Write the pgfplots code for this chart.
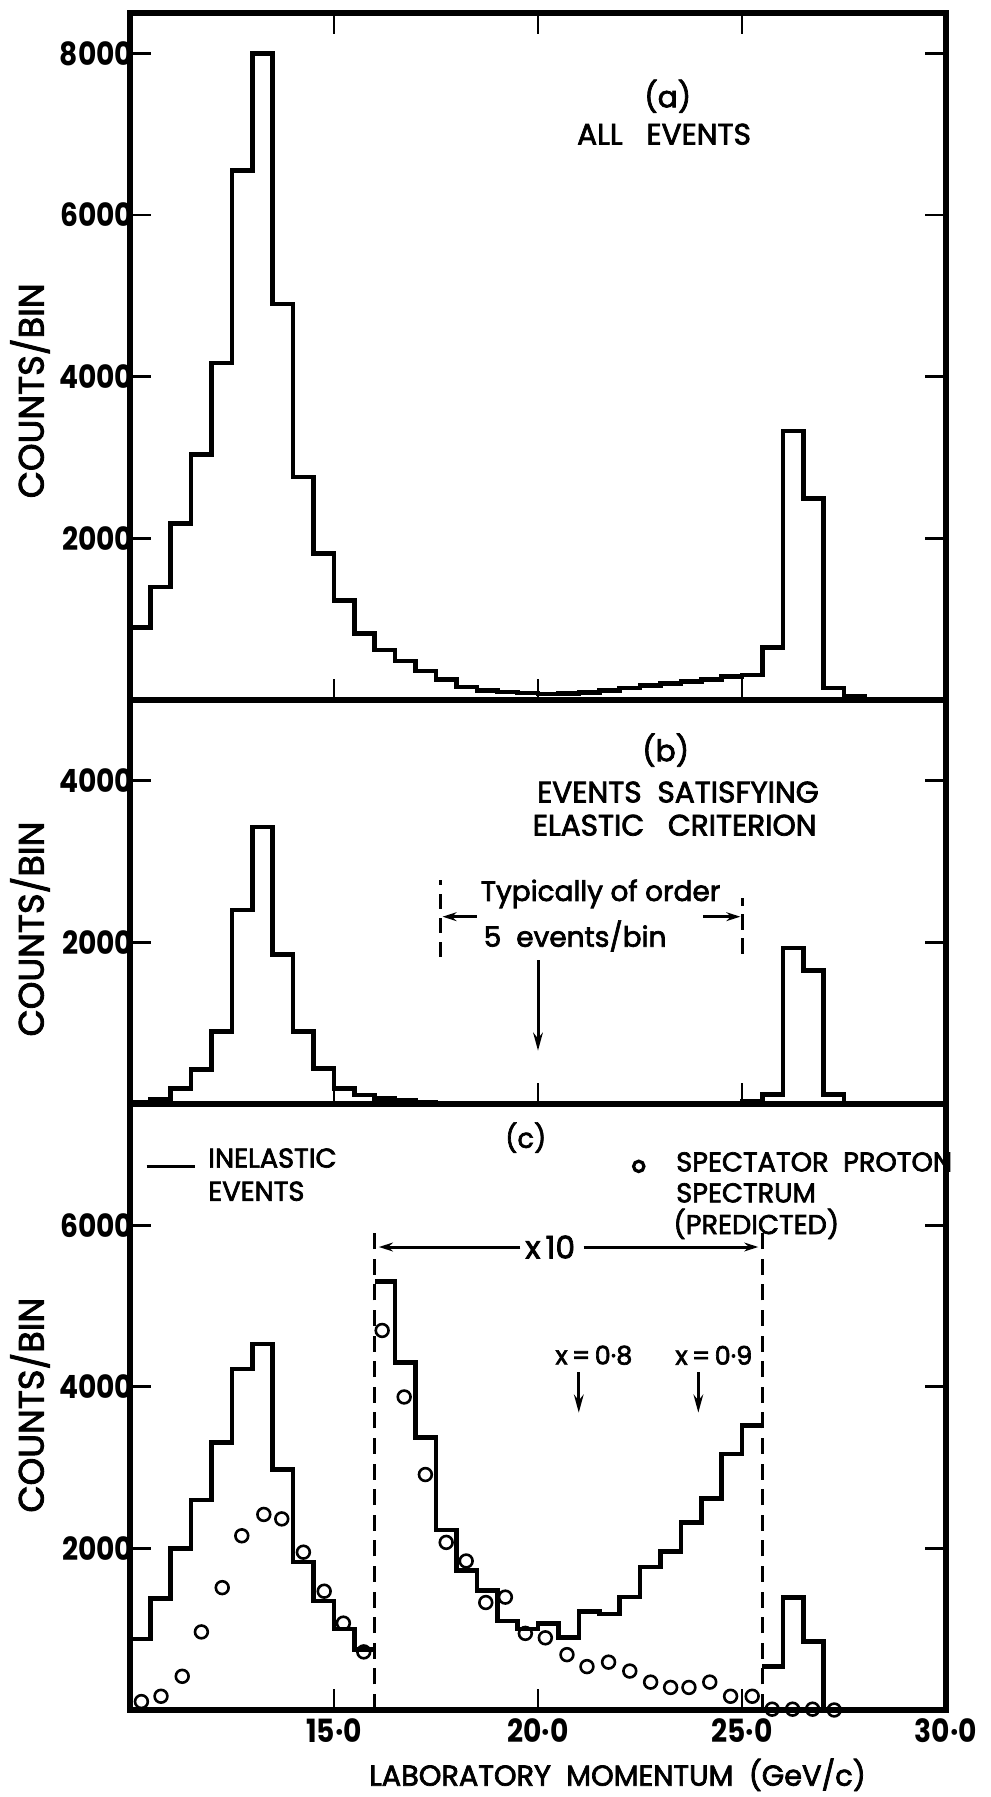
\documentclass[border=0pt]{standalone}
\usepackage{fontspec}
\setmainfont{Poppins}[FakeBold=2.5]
\newfontfamily\tickfam{Poppins}[FakeStretch=0.88]
\usepackage{pgfplots}
\pgfplotsset{compat=1.18}
\usetikzlibrary{arrows.meta}

\newcommand{\tickfont}{\tickfam\bfseries\fontsize{8.0}{9}\selectfont}
\newcommand{\annfont}{\fontsize{7.4}{8}\selectfont}
\newcommand{\legfont}{\fontsize{6.8}{8}\selectfont}
\newcommand{\labfont}{\fontsize{8.8}{9}\selectfont}
\newcommand{\xlabfont}{\fontsize{7.2}{8}\selectfont}

\tikzset{ann/.style={black, line width=0.75pt}}
\pgfplotsset{
  panel/.style={
    scale only axis,
    width=204pt,
    xmin=10, xmax=30, ymin=0,
    axis line style={line width=1.5pt},
    tick align=inside,
    major tick length=5.3pt,
    every tick/.style={black, line width=0.7pt},
    ytick pos=both,
    tick label style={font=\tickfont},
    yticklabel style={inner xsep=1.5pt, xshift=2.5pt},
    xticklabel style={inner ysep=2pt},
    clip=false,
    xtick={15,20,25},
  },
  hist/.style={const plot, black, line width=1.15pt, mark=none},
}

\begin{document}
\begin{tikzpicture}
%---------------- panel (a)
\begin{axis}[panel, name=a, height=171.75pt, ymax=8500,
  xtick pos=both, xticklabels={,,},
  ytick={2000,4000,6000,8000}, yticklabels={2000,4000,6000,8000}]
\addplot[hist] coordinates {
(10.0,900) (10.5,1400) (11.0,2180) (11.5,3040) (12.0,4170) (12.5,6550)
(13.0,8000) (13.5,4900) (14.0,2760) (14.5,1810) (15.0,1230) (15.5,820)
(16.0,620) (16.5,480) (17.0,360) (17.5,250) (18.0,160) (18.5,120)
(19.0,100) (19.5,85) (20.0,75) (20.5,80) (21.0,95) (21.5,120)
(22.0,150) (22.5,180) (23.0,205) (23.5,230) (24.0,255) (24.5,290)
(25.0,310) (25.5,650) (26.0,3330) (26.5,2490) (27.0,150) (27.5,40)
(28.0,0) (30.0,0)};
\node[font=\annfont] at (axis cs:23.18,7470) {(a)};
\node[font=\annfont] at (axis cs:23.09,7000) {ALL\ \ \ EVENTS};
\node[rotate=90, font=\labfont] at ([xshift=-25pt]rel axis cs:0,0.45) {COUNTS/BIN};
\end{axis}
%---------------- panel (b)
\begin{axis}[panel, name=b, at={(a.south west)}, anchor=north west,
  height=101pt, ymax=5000,
  xtick pos=bottom, xticklabels={,,},
  ytick={2000,4000}, yticklabels={2000,4000}]
\addplot[hist] coordinates {
(10.0,20) (10.5,60) (11.0,190) (11.5,430) (12.0,900) (12.5,2400)
(13.0,3430) (13.5,1850) (14.0,900) (14.5,440) (15.0,190) (15.5,110)
(16.0,65) (16.5,40) (17.0,25) (17.5,12) (18.0,6) (25.0,30)
(25.5,120) (26.0,1930) (26.5,1650) (27.0,120) (27.5,0) (30.0,0)};
\node[font=\annfont] at (axis cs:23.13,4380) {(b)};
\node[font=\annfont] at (axis cs:23.43,3860) {EVENTS\ \ SATISFYING};
\node[font=\annfont] at (axis cs:23.35,3450) {ELASTIC\ \ \ CRITERION};
\node[font=\fontsize{7.0}{8}\selectfont, anchor=west, inner xsep=0pt] at (axis cs:18.58,2600) {Typically of order};
\node[font=\fontsize{7.0}{8}\selectfont, anchor=west, inner xsep=0pt] at (axis cs:18.65,2080) {5\ \ events/bin};
\draw[ann, dash pattern=on 3.8pt off 2.2pt] (axis cs:17.6,1820) -- (axis cs:17.6,2770);
\draw[ann, dash pattern=on 3.8pt off 2.2pt] (axis cs:25.0,1860) -- (axis cs:25.0,2545);
\draw[ann, -{Stealth[length=3.5pt,width=2.2pt]}] (axis cs:18.5,2318) -- (axis cs:17.66,2318);
\draw[ann, -{Stealth[length=3.5pt,width=2.2pt]}] (axis cs:24.05,2318) -- (axis cs:24.96,2318);
\draw[ann, -{Stealth[length=4.5pt,width=2.4pt]}] (axis cs:20,1780) -- (axis cs:20,660);
\node[rotate=90, font=\labfont] at ([xshift=-25pt]rel axis cs:0,0.433) {COUNTS/BIN};
\end{axis}
%---------------- panel (c)
\begin{axis}[panel, name=c, at={(b.south west)}, anchor=north west,
  height=151.5pt, ymax=7500,
  xtick pos=bottom, xtick={15,20,25,30}, xticklabels={15·0,20·0,25·0,30·0},
  ytick={2000,4000,6000}, yticklabels={2000,4000,6000}]
\addplot[hist] coordinates {
(10.0,880) (10.5,1380) (11.0,2000) (11.5,2600) (12.0,3310) (12.5,4220)
(13.0,4530) (13.5,2980) (14.0,1830) (14.5,1350) (15.0,1000) (15.5,750)
(16.0,750)};
\addplot[hist] coordinates {
(16.0,5300) (16.5,4300) (17.0,3370) (17.5,2230) (18.0,1730) (18.5,1480)
(19.0,1100) (19.5,1000) (20.0,1070) (20.5,900) (21.0,1220) (21.5,1190)
(22.0,1400) (22.5,1770) (23.0,1960) (23.5,2320) (24.0,2620) (24.5,3170)
(25.0,3520) (25.5,3520)};
\addplot[hist] coordinates {
(25.5,540) (26.0,1390) (26.5,850) (27.0,0) (30.0,0)};
\addplot[only marks, black, mark=o, mark size=1.6pt, mark options={line width=0.65pt}] coordinates {
(10.28,104) (10.76,170) (11.28,417) (11.75,966) (12.26,1514) (12.74,2156)
(13.28,2420) (13.72,2365) (14.25,1953) (14.76,1470) (15.23,1075) (15.73,719)
(16.18,4697) (16.72,3874) (17.24,2914) (17.75,2074) (18.24,1844) (18.72,1330)
(19.2,1397) (19.69,948) (20.18,893) (20.71,685) (21.2,537) (21.73,592)
(22.25,482) (22.76,345) (23.25,279) (23.7,279) (24.21,345) (24.72,170)
(25.25,170) (25.74,10) (26.24,10) (26.73,10) (27.26,0)};
% legend samples
\addplot[black, line width=0.85pt] coordinates {(10.41,6730) (11.59,6730)};
\addplot[only marks, black, mark=o, mark size=1.3pt, mark options={line width=0.8pt}] coordinates {(22.47,6728)};
\node[font=\legfont, anchor=west, inner xsep=0pt] at (axis cs:11.9,6830) {INELASTIC};
\node[font=\legfont, anchor=west, inner xsep=0pt] at (axis cs:11.9,6420) {EVENTS};
\node[font=\legfont, anchor=west, inner xsep=0pt] at (axis cs:23.37,6783) {SPECTATOR\ \ PROTON};
\node[font=\legfont, anchor=west, inner xsep=0pt] at (axis cs:23.37,6400) {SPECTRUM};
\node[font=\legfont, anchor=west, inner xsep=0pt] at (axis cs:23.3,6016) {(PREDICTED)};
\node[font=\legfont] at (axis cs:19.7,7084) {(c)};
% x10 region
\draw[ann, line width=0.8pt, dash pattern=on 4pt off 2.4pt] (axis cs:16.0,0) -- (axis cs:16.0,5930);
\draw[ann, line width=0.8pt, dash pattern=on 4pt off 2.4pt] (axis cs:25.5,0) -- (axis cs:25.5,5930);
\draw[ann, -{Stealth[length=3.5pt,width=2.2pt]}] (axis cs:19.57,5730) -- (axis cs:16.1,5730);
\draw[ann, -{Stealth[length=3.5pt,width=2.2pt]}] (axis cs:21.12,5730) -- (axis cs:25.4,5730);
\node[font=\fontsize{7.8}{8}\selectfont] at (axis cs:20.3,5730) {x\,10};
\node[font=\fontsize{6.4}{8}\selectfont] at (axis cs:21.37,4390) {x\,=\,0·8};
\node[font=\fontsize{6.4}{8}\selectfont] at (axis cs:24.31,4390) {x\,=\,0·9};
\draw[ann, -{Stealth[length=4.5pt,width=2.4pt]}] (axis cs:21.0,4180) -- (axis cs:21.0,3680);
\draw[ann, -{Stealth[length=4.5pt,width=2.4pt]}] (axis cs:23.93,4180) -- (axis cs:23.93,3680);
\node[rotate=90, font=\labfont] at ([xshift=-25pt]rel axis cs:0,0.503) {COUNTS/BIN};
\node[font=\xlabfont] at ([yshift=-16.2pt]axis cs:21.95,0) {LABORATORY\ \ MOMENTUM\ \ (GeV/c)};
\end{axis}
\pgfresetboundingbox
\path[use as bounding box] ([shift={(-32.5pt,3.25pt)}]a.north west) rectangle ([shift={(215pt,-446pt)}]a.north west);
\end{tikzpicture}
\end{document}
